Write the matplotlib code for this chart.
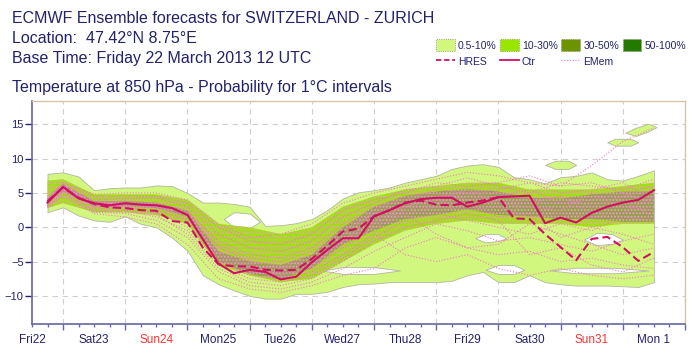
import matplotlib
matplotlib.use("Agg")
import matplotlib.pyplot as plt
from matplotlib.patches import Patch
from matplotlib.lines import Line2D

plt.rcParams['font.family'] = ['Liberation Sans', 'DejaVu Sans']
plt.rcParams['hatch.linewidth'] = 0.9

NAVY = '#22226a'

# forecast steps (hours after base time Fri 22 March 12 UTC)
hours = list(range(6, 241, 6))

# control run and high-res run, deg C at 850 hPa
ctr = [3.6, 5.9, 4.2, 3.5, 3.2, 3.5, 3.3, 3.2, 2.8, 1.8,
       -1.8, -5.3, -6.7, -6.2, -6.5, -7.6, -7.2, -5.1, -3.3, -1.6,
       -1.6, 1.6, 2.5, 3.5, 4.1, 4.3, 4.3, 3.0, 3.6, 4.4,
       4.5, 4.6, 0.6, 1.4, 0.7, 2.1, 3.0, 3.6, 4.0, 5.4]
hres = [3.8, 5.8, 4.3, 3.4, 2.9, 2.8, 2.5, 2.4, 0.9, 0.7,
        -3.0, -5.4, -5.7, -5.7, -6.2, -6.3, -6.2, -4.6, -2.7, -0.6,
        -0.2, 1.6, 2.5, 3.6, 3.9, 3.3, 3.2, 3.6, 3.9, 4.4,
        1.3, 1.2, -1.0, -2.9, -4.8, -1.7, -1.4, -2.9, -4.9, -3.6]

# outer edge of the 0.5% probability area
p05_top = [7.8, 8.0, 7.4, 5.4, 5.7, 5.8, 5.8, 6.1, 6.0, 5.0,
           3.6, 3.6, 3.4, 3.0, 0.2, 0.3, 0.6, 1.2, 2.5, 4.2,
           5.1, 5.4, 5.8, 6.5, 7.0, 7.5, 8.5, 9.0, 9.2, 8.8,
           7.3, 7.0, 6.4, 7.3, 7.5, 8.0, 7.0, 6.8, 7.5, 8.3]
p05_bot = [2.2, 2.9, 1.7, 1.0, 0.8, 1.6, 0.5, 0.0, -1.5, -3.4,
           -7.0, -8.3, -9.2, -10.0, -10.4, -10.4, -9.7, -9.7, -9.4, -8.7,
           -8.3, -8.2, -8.0, -8.0, -8.0, -8.0, -7.8, -7.0, -6.5, -8.0,
           -8.0, -7.0, -8.0, -8.3, -8.5, -8.5, -8.5, -8.6, -8.7, -8.0]

# gaps (< 0.5%) inside the area: hours, lower, upper
gaps = [
    ([74, 78, 84, 88], [1.2, 0.0, -0.1, 0.8], [1.2, 2.2, 2.0, 0.8]),
    ([112, 120, 132, 142], [-6.3, -6.8, -6.8, -6.3], [-6.3, -5.8, -5.8, -6.3]),
    ([171, 175, 180, 183], [-1.6, -2.2, -2.0, -1.6], [-1.6, -1.0, -1.0, -1.6]),
    ([175, 180, 186, 190], [-6.2, -6.8, -6.8, -6.2], [-6.2, -5.5, -5.5, -6.2]),
    ([213, 218, 224, 228], [-1.8, -2.6, -2.4, -1.8], [-1.8, -0.8, -1.0, -1.8]),
    ([200, 210, 225, 238], [-6.3, -6.7, -6.7, -6.3], [-6.3, -5.9, -5.9, -6.3]),
]
# detached 0.5% patches
islands = [
    ([198, 202, 207, 210], [9.1, 8.5, 8.5, 9.1], [9.1, 9.7, 9.7, 9.1]),
    ([222, 225, 231, 234], [12.4, 11.9, 11.9, 12.4], [12.4, 12.9, 12.9, 12.4]),
    ([229, 233, 238, 241], [13.8, 13.3, 14.0, 14.6], [13.8, 14.5, 15.1, 14.6]),
]

# inner probability bands, 12-hourly
hours12 = [6, 12, 24, 36, 48, 60, 72, 84, 96, 108, 120,
           132, 144, 156, 168, 180, 192, 204, 216, 228, 240]
p10_bot = [2.8, 3.5, 2.2, 2.2, 1.8, 0.5, -5.5, -7.0, -8.0, -7.5, -5.0,
           -2.5, -0.5, 0.5, 1.0, 0.5, 0.5, 0.5, 0.0, 0.5, 0.5]
p10_top = [6.8, 7.0, 4.8, 4.8, 4.8, 4.0, 0.5, 0.0, -1.0, 0.0, 3.0,
           4.5, 5.5, 6.0, 6.5, 6.5, 5.5, 5.5, 5.5, 6.0, 6.5]
p30_bot = [3.5, 5.2, 3.1, 3.0, 2.8, 1.6, -5.0, -6.8, -7.6, -6.0, -2.5,
           -0.5, 1.2, 1.8, 2.6, 1.8, 1.6, 1.2, 1.2, 0.8, 0.8]
p30_top = [4.2, 6.3, 3.8, 3.8, 3.6, 2.4, -3.5, -5.0, -5.5, -4.0, 0.0,
           3.0, 4.6, 5.2, 5.6, 5.2, 4.3, 4.2, 4.8, 5.2, 5.2]

# a selection of ensemble members, 12-hourly
members = [
    [4.5, 6.5, 4.8, 5.0, 5.0, 4.0, 0.5, -1.5, -1.0, 0.5, 3.5, 5.0, 6.0, 7.0, 8.0, 7.5, 6.5, 6.0, 9.0, 12.5, 14.5],
    [4.0, 6.2, 4.0, 4.2, 4.3, 3.0, -1.0, -3.0, -3.5, -2.0, 1.5, 3.5, 5.5, 6.0, 7.2, 6.0, 5.0, 6.5, 6.0, 5.5, 7.0],
    [3.8, 6.0, 3.5, 3.8, 3.5, 2.5, -2.5, -4.5, -5.0, -3.5, 0.0, 2.5, 4.5, 5.0, 4.0, 4.5, 5.5, 3.5, 4.0, 5.0, 3.5],
    [3.6, 5.5, 3.2, 3.2, 3.0, 1.5, -3.5, -5.5, -6.0, -5.0, -2.0, 1.0, 3.0, 4.0, 5.5, 3.5, 3.0, 2.5, 5.0, 3.0, 2.5],
    [3.5, 5.8, 3.0, 3.0, 2.0, 0.5, -4.5, -6.5, -7.0, -6.0, -3.0, 0.0, 2.0, 3.0, 2.5, 3.0, 1.5, 2.0, 1.5, 2.0, 4.5],
    [3.2, 5.2, 2.5, 2.5, 1.5, -0.5, -5.5, -7.5, -8.0, -7.0, -4.5, -1.5, 1.0, 2.0, 1.0, 0.0, -1.0, 0.5, -0.5, 1.5, 1.0],
    [3.0, 4.8, 2.2, 2.0, 1.0, -1.5, -6.5, -8.5, -9.0, -8.0, -6.0, -3.5, -1.5, 0.5, -0.5, -2.0, -1.5, -2.5, -3.5, -2.0, -1.0],
    [2.8, 4.5, 2.0, 1.5, 0.5, -2.5, -7.5, -9.0, -9.5, -8.5, -7.0, -6.0, -3.0, -1.5, -3.0, -4.0, -3.5, -5.0, -4.5, -5.5, -6.0],
    [3.9, 6.1, 3.8, 3.6, 3.2, 1.8, -3.0, -4.8, -5.8, -4.5, -1.0, 2.0, 3.5, 4.5, 4.8, 5.0, 4.0, 4.5, 3.0, 4.5, 5.5],
    [3.7, 5.9, 3.4, 3.4, 3.3, 2.2, -2.0, -4.0, -4.5, -3.0, 0.5, 3.0, 4.0, 5.5, 5.0, 5.5, 6.5, 5.0, 5.5, 6.5, 4.0],
    [3.4, 5.6, 3.0, 2.8, 2.5, 1.0, -4.0, -6.0, -6.5, -5.5, -2.5, 0.5, 2.5, 3.5, 3.5, 1.5, 2.0, -1.5, 0.0, -1.0, -2.5],
    [3.3, 5.4, 2.8, 2.6, 2.2, 0.0, -5.0, -7.0, -7.5, -6.5, -4.0, -1.0, -4.0, -5.0, -4.0, -6.0, -7.0, -6.0, -7.0, -7.5, -7.0],
    [4.2, 6.4, 4.5, 4.6, 4.5, 3.5, 0.0, -2.0, -2.5, -1.0, 2.5, 4.0, 5.0, 6.5, 6.0, 6.5, 7.5, 6.0, 6.5, 5.0, 6.0],
    [3.6, 5.7, 3.3, 3.1, 2.8, 1.2, -3.8, -5.8, -6.8, -5.5, -2.0, 1.5, 2.0, -1.0, -3.0, -2.5, 0.5, -1.0, -2.5, -4.0, -3.0],
    [3.1, 5.0, 2.4, 2.2, 1.8, -1.0, -6.0, -8.0, -8.5, -7.5, -5.0, -2.0, 0.0, 1.0, 2.0, 1.0, -4.0, -3.0, -5.5, -6.5, -4.5],
    [3.8, 6.0, 3.6, 3.5, 3.0, 2.0, -2.8, -5.0, -5.5, -4.0, -0.5, 2.0, 3.0, 4.0, 3.0, 4.0, 3.5, 4.5, 2.0, 4.0, 1.5],
]

day_labels = ['Fri22', 'Sat23', 'Sun24', 'Mon25', 'Tue26', 'Wed27',
              'Thu28', 'Fri29', 'Sat30', 'Sun31', 'Mon 1']

C05 = '#d2f77e'
C10 = '#99e600'
C30 = '#93a04a'
C50 = '#237a00'
EDGE = '#b4b4a4'
LINEC = '#d01060'
PINK = '#f07ac8'

fig = plt.figure(figsize=(6.95, 3.57), dpi=100)
ax = fig.add_axes([0.046, 0.0924, 0.9396, 0.6246])

ax.fill_between(hours, p05_bot, p05_top, facecolor=C05, edgecolor=EDGE, lw=0.6, zorder=2)
for h, lo, hi in islands:
    ax.fill_between(h, lo, hi, facecolor=C05, edgecolor=EDGE, lw=0.6, zorder=2)
for h, lo, hi in gaps:
    ax.fill_between(h, lo, hi, facecolor='white', edgecolor=EDGE, lw=0.6, zorder=2.1)
ax.fill_between(hours12, p10_bot, p10_top, facecolor=C10, lw=0, zorder=2.2)
ax.fill_between(hours12, p30_bot, p30_top, facecolor=C30, lw=0, zorder=2.3)
# dotted texture left by the many member lines
ax.fill_between(hours12, p10_bot, p10_top, facecolor='none', edgecolor='#f59ad0',
                hatch='.....', lw=0, zorder=2.4)

for m in members:
    ax.plot(hours12, m, color=PINK, lw=0.8, ls=(0, (1, 1.6)), zorder=3)

ax.plot(hours, hres, color=LINEC, lw=1.5, ls=(0, (4, 2)), zorder=4)
ax.plot(hours, ctr, color=LINEC, lw=1.5, zorder=4)

ax.set_xlim(0, 252)
ax.set_ylim(-14.1, 18.4)
ax.set_yticks([-10, -5, 0, 5, 10, 15])
ax.set_xticks(range(12, 253, 24))
ax.set_xticks(range(0, 253, 6), minor=True)
ax.set_xticklabels([])
ax.grid(True, which='major', color='#cfcfcf', ls=(0, (5, 4)), lw=0.8, zorder=1)

for i, lab in enumerate(day_labels):
    ax.text(i * 24, -15.6, lab, ha='center', va='top', fontsize=8.5,
            color='#ff3333' if lab.startswith('Sun') else NAVY, clip_on=False)

ax.tick_params(axis='y', length=5, width=1, color=NAVY, labelcolor=NAVY,
               labelsize=8, pad=1)
ax.tick_params(axis='x', which='major', length=4, width=1, color='#6a6a9a')
ax.tick_params(axis='x', which='minor', length=2.2, width=1, color='#6a6a9a')
for s in ['left', 'bottom']:
    ax.spines[s].set_color('#6666a0')
    ax.spines[s].set_linewidth(1.2)
for s in ['top', 'right']:
    ax.spines[s].set_color('#d8c4a4')
    ax.spines[s].set_linewidth(1.0)

title_lines = ['ECMWF Ensemble forecasts for SWITZERLAND - ZURICH',
               'Location:  47.42\u00b0N 8.75\u00b0E',
               'Base Time: Friday 22 March 2013 12 UTC']
for i, t in enumerate(title_lines):
    fig.text(0.0173, 0.947 - i * 0.0555, t, fontsize=11.5, color=NAVY, va='center')
fig.text(0.0173, 0.756, 'Temperature at 850 hPa - Probability for 1\u00b0C intervals',
         fontsize=11.5, color=NAVY, va='center')

handles = [Patch(facecolor=C05, edgecolor='#888866', lw=0.6, ls=':'),
           Line2D([], [], color=LINEC, lw=1.3, ls=(0, (3, 1.5))),
           Patch(facecolor=C10, edgecolor='#888866', lw=0.6, ls=':'),
           Line2D([], [], color=LINEC, lw=1.3),
           Patch(facecolor='#6b9400', edgecolor='#888866', lw=0.6, ls=':'),
           Line2D([], [], color=PINK, lw=0.8, ls=(0, (1, 1.5))),
           Patch(facecolor=C50, edgecolor='#888866', lw=0.6, ls=':'),
           Line2D([], [], color='none')]
labels = ['0.5-10%', 'HRES', '10-30%', 'Ctr', '30-50%', 'EMem', '50-100%', '']
fig.legend(handles, labels, ncol=4, loc='upper left', frameon=False,
           bbox_to_anchor=(0.627, 0.891), fontsize=7.5, labelcolor=NAVY,
           handlelength=1.8, handleheight=1.45, handletextpad=0.3,
           columnspacing=0.35, labelspacing=0.4, borderpad=0, borderaxespad=0)

fig.savefig('out.png', dpi=100)
